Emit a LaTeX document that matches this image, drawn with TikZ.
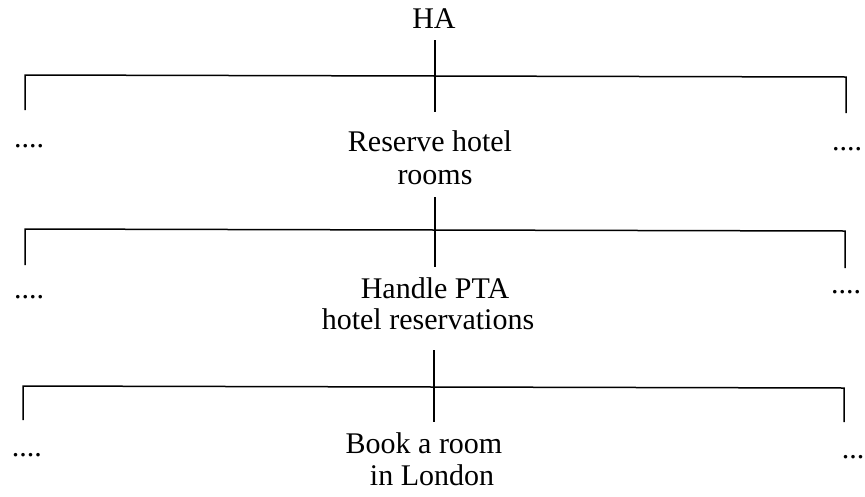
\documentclass[tikz,border=0pt]{standalone}
\usepackage{fontspec}
\setmainfont{Liberation Serif}
\begin{document}
\begin{tikzpicture}[x=1pt,y=-1pt,
  txt/.style={font=\fontsize{30}{33}\selectfont, inner sep=0pt, anchor=base},
  ln/.style={line width=1.5pt},
  drop/.style={line width=1.3pt}]
\useasboundingbox[fill=white] (0,0) rectangle (865,496);
% ---------- level 0
\node[txt] (ha) at (434,28) {HA};
\coordinate (v1t) at (435,40);
% ---------- level 1
\coordinate (c1) at (435,76);
\coordinate (l1t) at (25,75);
\coordinate (l1b) at (25,110);
\coordinate (r1t) at (846,77);
\coordinate (r1b) at (846,113);
\coordinate (m1b) at (435,112);
\node[txt] (t1a) at (430,151) {Reserve hotel};
\node[txt] (t1b) at (435,184) {rooms};
\node[txt] (d1l) at (29,147) {....};
\node[txt] (d1r) at (847,150) {....};
\coordinate (v2t) at (435,197);
\draw[drop] (v1t) -- (c1);
\draw[ln] (l1b) -- (l1t) -- (r1t) -- (r1b);
\draw[drop] (c1) -- (m1b);
% ---------- level 2
\coordinate (c2) at (435,230);
\coordinate (l2t) at (25,229);
\coordinate (l2b) at (25,265);
\coordinate (r2t) at (845,231);
\coordinate (r2b) at (845,268);
\coordinate (m2b) at (435,267);
\node[txt] (t2a) at (435,298) {Handle PTA};
\node[txt] (t2b) at (428,329) {hotel reservations};
\node[txt] (d2l) at (29,298) {....};
\node[txt] (d2r) at (846,293) {....};
\coordinate (v3t) at (434,350);
\draw[drop] (v2t) -- (c2);
\draw[ln] (l2b) -- (l2t) -- (r2t) -- (r2b);
\draw[drop] (c2) -- (m2b);
% ---------- level 3
\coordinate (c3) at (434,387);
\coordinate (l3t) at (23,386);
\coordinate (l3b) at (23,420);
\coordinate (r3t) at (844,388);
\coordinate (r3b) at (844,422);
\coordinate (m3b) at (434,422);
\node[txt] (t3a) at (424,453) {Book a room};
\node[txt] (t3b) at (432,485) {in London};
\node[txt] (d3l) at (27,456) {....};
\node[txt] (d3r) at (853,458) {...};
\draw[drop] (v3t) -- (c3);
\draw[ln] (l3b) -- (l3t) -- (r3t) -- (r3b);
\draw[drop] (c3) -- (m3b);
\end{tikzpicture}
\end{document}
